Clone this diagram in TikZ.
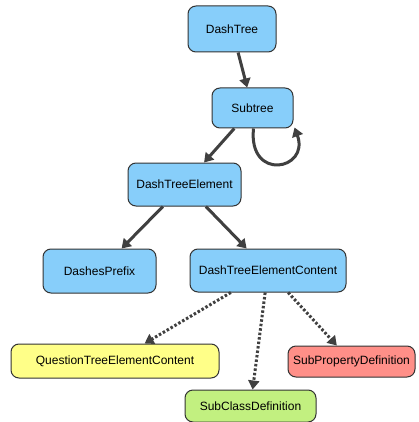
\documentclass[tikz,border=0pt]{standalone}
\usepackage{fontspec}
\setmainfont{Liberation Sans}
\usetikzlibrary{arrows.meta}
\definecolor{nblue}{HTML}{87CEFA}
\definecolor{nyellow}{HTML}{FFFF88}
\definecolor{nred}{HTML}{FF8F88}
\definecolor{ngreen}{HTML}{C2F080}
\definecolor{edge}{HTML}{404040}
\definecolor{bord}{HTML}{333333}
\begin{document}
\begin{tikzpicture}[x=1pt,y=-1pt,
  box/.style={draw=bord,line width=1pt,rounded corners=8pt,inner sep=0pt,
    font=\fontsize{12pt}{14pt}\selectfont,text=black},
  bl/.style={box,fill=nblue},
  solidarr/.style={draw=edge,line width=3pt,-{Triangle[length=9pt,width=11pt]}},
  dotarr/.style={draw=edge,line width=3pt,dash pattern=on 2.5pt off 2pt,-{Triangle[length=9pt,width=11pt]}}]
\useasboundingbox[fill=white] (0,0) rectangle (419,422);
\node[bl,minimum width=88pt,minimum height=46pt] (dt) at (232,29) {DashTree};
\node[bl,minimum width=81pt,minimum height=40pt] (st) at (252.5,108) {Subtree};
\node[bl,minimum width=113pt,minimum height=43pt] (dte) at (184.5,184.5) {DashTreeElement};
\node[bl,minimum width=113pt,minimum height=44pt] (dp) at (99.5,271) {DashesPrefix};
\node[bl,minimum width=156pt,minimum height=43pt] (dtec) at (268,270.5) {DashTreeElementContent};
\node[box,fill=nyellow,minimum width=208pt,minimum height=34pt] (qtec) at (115,361) {QuestionTreeElementContent};
\node[box,fill=nred,minimum width=127pt,minimum height=31pt] (spd) at (351.5,361.5) {SubPropertyDefinition};
\node[box,fill=ngreen,minimum width=131pt,minimum height=32pt] (scd) at (250.5,406) {SubClassDefinition};

\draw[solidarr] (dt) -- (st);
\draw[solidarr] (st) -- (dte);
\draw[solidarr] ([xshift=1pt]st.south) .. controls (248,182) and (310,170) .. ([xshift=1pt,yshift=1pt]st.south east);
\draw[solidarr] (dte) -- (dp);
\draw[solidarr] (dte) -- (dtec);
\draw[dotarr] (dtec) -- (qtec);
\draw[dotarr] (dtec) -- (scd);
\draw[dotarr] (dtec) -- (spd);
\end{tikzpicture}
\end{document}
